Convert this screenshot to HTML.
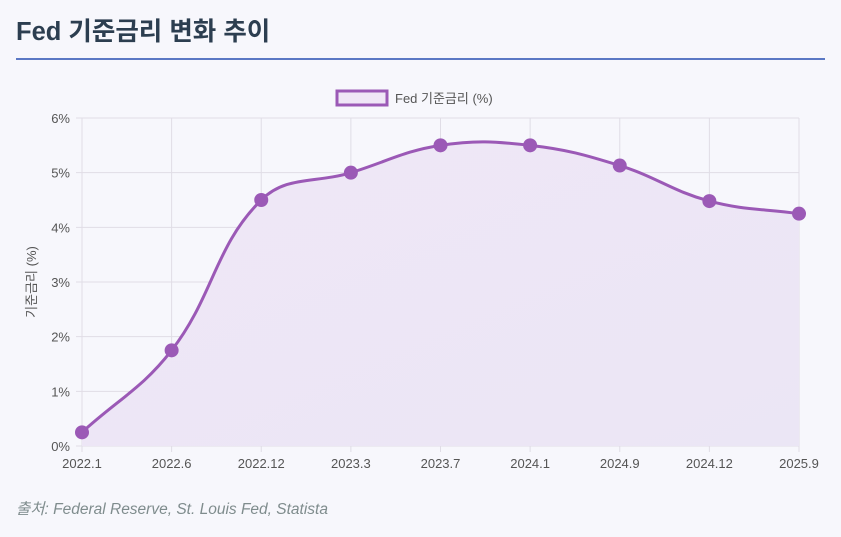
<!DOCTYPE html>
<html><head><meta charset="utf-8"><style>
body{margin:0;width:841px;height:532px;background:#f7f7fc;font-family:"Liberation Sans","Noto Sans CJK KR",sans-serif;overflow:hidden}
</style></head><body>
<svg width="841" height="532" xmlns="http://www.w3.org/2000/svg" font-family="Liberation Sans, Noto Sans CJK KR, sans-serif">
<defs><linearGradient id="g" x1="0" y1="0" x2="1" y2="1"><stop offset="0" stop-color="#efe7f6"/><stop offset="1" stop-color="#ebe6f5"/></linearGradient></defs>
<text x="16" y="40" font-size="25.5" font-weight="bold" fill="#2c3e50">Fed 기준금리 변화 추이</text>
<rect x="16" y="58" width="809" height="2" fill="#5b78c4"/>
<rect x="337" y="91" width="50" height="14" fill="#efe6f6" stroke="#9b59b6" stroke-width="3"/>
<text x="395" y="103" font-size="13" fill="#555">Fed 기준금리 (%)</text>
<g id="grid" stroke="#e0dde6" stroke-width="1"></g>
<path id="area" fill="url(#g)"/>
<path id="line" fill="none" stroke="#9b59b6" stroke-width="3"/>
<g id="pts" fill="#9b59b6"></g>
<g id="lbl" font-size="13" fill="#555"></g>
<text transform="translate(36,282) rotate(-90)" text-anchor="middle" font-size="13" fill="#555">기준금리 (%)</text>
<text x="16" y="514" font-size="15.5" font-style="italic" fill="#7f8c8d">출처: Federal Reserve, St. Louis Fed, Statista</text>
</svg>
<script>
var ns="http://www.w3.org/2000/svg";
function el(p,t,a,txt){var e=document.createElementNS(ns,t);for(var k in a)e.setAttribute(k,a[k]);if(txt)e.textContent=txt;document.getElementById(p).appendChild(e);}
var L=82,R=799,T=118,B=446;
var labs=["2022.1","2022.6","2022.12","2023.3","2023.7","2024.1","2024.9","2024.12","2025.9"];
var v=[0.25,1.75,4.5,5.0,5.5,5.5,5.13,4.48,4.25];
var X=function(i){return L+(R-L)*i/8},Y=function(p){return B-(B-T)*p/6};
for(var i=0;i<9;i++){el("grid","line",{x1:X(i),y1:T,x2:X(i),y2:B+6});el("lbl","text",{x:X(i),y:B+22,"text-anchor":"middle"},labs[i]);}
for(var j=0;j<=6;j++){el("grid","line",{x1:L-6,y1:Y(j),x2:R,y2:Y(j)});el("lbl","text",{x:L-12,y:Y(j)+5,"text-anchor":"end"},j+"%");}
var P=v.map(function(p,i){return[X(i),Y(p)]});
var t=0.4,d="M"+P[0][0]+","+P[0][1];
function cp(i){var a=P[Math.max(i-1,0)],b=P[i],c=P[Math.min(i+1,8)];
var d01=Math.hypot(b[0]-a[0],b[1]-a[1]),d12=Math.hypot(c[0]-b[0],c[1]-b[1]);
var fa=d01/(d01+d12)||0,fb=d12/(d01+d12)||0;fa*=t;fb*=t;
return[[b[0]-fa*(c[0]-a[0]),b[1]-fa*(c[1]-a[1])],[b[0]+fb*(c[0]-a[0]),b[1]+fb*(c[1]-a[1])]];}
var C=P.map(function(_,i){return cp(i)});
for(var i=1;i<9;i++){d+=" C"+C[i-1][1].join(",")+" "+C[i][0].join(",")+" "+P[i].join(",");}
document.getElementById("line").setAttribute("d",d);
document.getElementById("area").setAttribute("d",d+" L"+R+","+B+" L"+L+","+B+"Z");
P.forEach(function(p){el("pts","circle",{cx:p[0],cy:p[1],r:7});});
</script>
</body></html>
